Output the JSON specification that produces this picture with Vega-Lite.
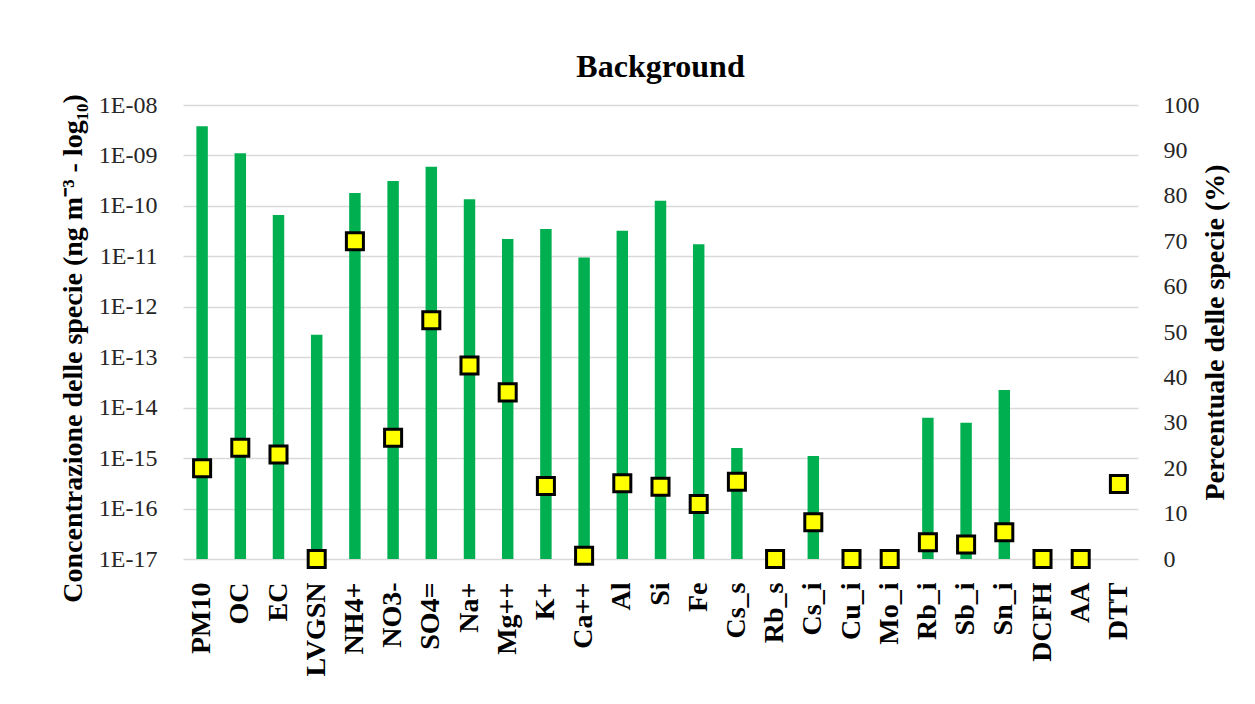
{
  "$schema": "https://vega.github.io/schema/vega-lite/v6.json",
  "autosize": {"type": "none"},
  "padding": {"left": 183, "top": 105, "right": 117, "bottom": 145},
  "width": 955,
  "height": 454,
  "background": "white",
  "title": {"text": "Background", "font": "Liberation Serif", "fontSize": 32, "fontWeight": "bold", "color": "black", "offset": 9, "frame": "group", "anchor": "middle"},
  "config": {"view": {"stroke": null}, "font": "Liberation Serif"},
  "data": {"values": [
    {"species": "PM10", "conc": 3.8e-9, "pct": 20},
    {"species": "OC", "conc": 1.1e-9, "pct": 24.5},
    {"species": "EC", "conc": 6.6e-11, "pct": 23},
    {"species": "LVGSN", "conc": 2.8e-13, "pct": 0},
    {"species": "NH4+", "conc": 1.8e-10, "pct": 70},
    {"species": "NO3-", "conc": 3.1e-10, "pct": 26.7},
    {"species": "SO4=", "conc": 6.0e-10, "pct": 52.6},
    {"species": "Na+", "conc": 1.35e-10, "pct": 42.6},
    {"species": "Mg++", "conc": 2.2e-11, "pct": 36.7},
    {"species": "K+", "conc": 3.5e-11, "pct": 16.1},
    {"species": "Ca++", "conc": 9.5e-12, "pct": 0.7},
    {"species": "Al", "conc": 3.2e-11, "pct": 16.7},
    {"species": "Si", "conc": 1.26e-10, "pct": 15.9},
    {"species": "Fe", "conc": 1.74e-11, "pct": 12.1},
    {"species": "Cs_s", "conc": 1.58e-15, "pct": 17},
    {"species": "Rb_s", "conc": null, "pct": 0},
    {"species": "Cs_i", "conc": 1.1e-15, "pct": 8.1},
    {"species": "Cu_i", "conc": null, "pct": 0},
    {"species": "Mo_i", "conc": null, "pct": 0},
    {"species": "Rb_i", "conc": 6.3e-15, "pct": 3.7},
    {"species": "Sb_i", "conc": 5.0e-15, "pct": 3.2},
    {"species": "Sn_i", "conc": 2.24e-14, "pct": 5.9},
    {"species": "DCFH", "conc": null, "pct": 0},
    {"species": "AA", "conc": null, "pct": 0},
    {"species": "DTT", "conc": null, "pct": 16.5}
  ]},
  "encoding": {
    "x": {
      "field": "species", "type": "nominal", "sort": null,
      "scale": {"domain": ["PM10","OC","EC","LVGSN","NH4+","NO3-","SO4=","Na+","Mg++","K+","Ca++","Al","Si","Fe","Cs_s","Rb_s","Cs_i","Cu_i","Mo_i","Rb_i","Sb_i","Sn_i","DCFH","AA","DTT"], "paddingInner": 0, "paddingOuter": 0},
      "axis": {"title": null, "labelAngle": -90, "labelFont": "Liberation Serif", "labelFontSize": 28, "labelFontWeight": "bold", "labelColor": "black", "labelPadding": 23, "ticks": false, "tickSize": 0, "domain": false, "grid": false}
    }
  },
  "layer": [
    {
      "mark": {"type": "bar", "color": "#00B050", "width": {"band": 0.3}},
      "encoding": {
        "y": {
          "field": "conc", "type": "quantitative",
          "scale": {"type": "log", "domain": [1e-17, 1e-8]},
          "axis": {
            "title": "Concentrazione delle specie (ng m⁻³ - log₁₀)",
            "titleFont": "Liberation Serif", "titleFontSize": 28, "titleFontWeight": "bold", "titleColor": "black", "titlePadding": 11, "titleY": 243,
            "values": [1e-17, 1e-16, 1e-15, 1e-14, 1e-13, 1e-12, 1e-11, 1e-10, 1e-9, 1e-8],
            "labelExpr": "'1E-' + (round(-log(datum.value)/LN10) < 10 ? '0' : '') + round(-log(datum.value)/LN10)",
            "labelFont": "Liberation Serif", "labelFontSize": 24, "labelColor": "#262626", "labelPadding": 26,
            "ticks": false, "tickSize": 0, "domain": false,
            "grid": true, "gridColor": "#d9d9d9", "gridWidth": 1.5
          }
        },
        "y2": {"datum": 1e-17}
      }
    },
    {
      "mark": {"type": "square", "size": 290, "filled": true, "color": "#FFFF00", "stroke": "black", "strokeWidth": 3, "opacity": 1, "clip": false},
      "encoding": {
        "y": {
          "field": "pct", "type": "quantitative",
          "scale": {"domain": [0, 100], "nice": false, "zero": true},
          "axis": {
            "orient": "right",
            "title": "Percentuale delle specie (%)",
            "titleFont": "Liberation Serif", "titleFontSize": 28, "titleFontWeight": "bold", "titleColor": "black", "titleAngle": 270, "titlePadding": 30,
            "values": [0, 10, 20, 30, 40, 50, 60, 70, 80, 90, 100],
            "labelFont": "Liberation Serif", "labelFontSize": 24, "labelColor": "#262626", "labelPadding": 25,
            "ticks": false, "tickSize": 0, "domain": false, "grid": false
          }
        }
      }
    }
  ],
  "resolve": {"scale": {"y": "independent"}}
}
